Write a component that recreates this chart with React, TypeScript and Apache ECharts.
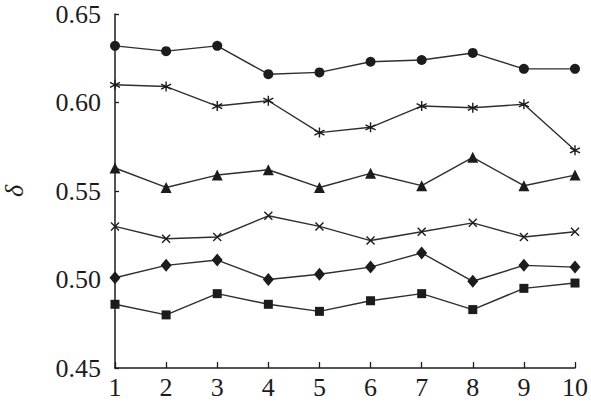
import React, {FunctionComponent, useRef, useEffect} from 'react';
import * as echarts from 'echarts';

const runs = [1, 2, 3, 4, 5, 6, 7, 8, 9, 10];
const yTicks = [0.45, 0.5, 0.55, 0.6, 0.65];

const circleValues = [0.632, 0.629, 0.632, 0.616, 0.617, 0.623, 0.624, 0.628, 0.619, 0.619];
const starValues = [0.61, 0.609, 0.598, 0.601, 0.583, 0.586, 0.598, 0.597, 0.599, 0.573];
const triangleValues = [0.563, 0.552, 0.559, 0.562, 0.552, 0.56, 0.553, 0.569, 0.553, 0.559];
const crossValues = [0.53, 0.523, 0.524, 0.536, 0.53, 0.522, 0.527, 0.532, 0.524, 0.527];
const diamondValues = [0.501, 0.508, 0.511, 0.5, 0.503, 0.507, 0.515, 0.499, 0.508, 0.507];
const squareValues = [0.486, 0.48, 0.492, 0.486, 0.482, 0.488, 0.492, 0.483, 0.495, 0.498];

const INK = '#1c1c1c';
const FONT = 'Liberation Serif';

// stroke-only marker shapes
const starPath = 'path://M5,0L5,10M0.7,2.5L9.3,7.5M9.3,2.5L0.7,7.5';
const crossPath = 'path://M0,0L10,10M10,0L0,10';

const makeSeries = (values: number[], symbol: string, size: number | number[], stroked = false) => ({
    type: 'line',
    data: runs.map((r, i) => [r, values[i]]),
    symbol,
    symbolSize: size,
    showSymbol: true,
    lineStyle: {color: '#2e2e2e', width: 1.4},
    itemStyle: stroked
        ? {color: 'none', borderColor: INK, borderWidth: 1.4}
        : {color: INK, borderColor: INK, borderWidth: 0},
    z: 3
});

const Chart: FunctionComponent = () => {
    const ref = useRef<HTMLDivElement>(null);

    useEffect(() => {
        const chart = echarts.init(ref.current as HTMLDivElement, null, {renderer: 'svg'});
        chart.setOption({
            animation: false,
            backgroundColor: '#ffffff',
            grid: {left: 115, right: 16, top: 14, bottom: 35, containLabel: false, outerBoundsMode: 'none'},
            xAxis: {
                type: 'value',
                min: 1,
                max: 10,
                interval: 1,
                axisLine: {lineStyle: {color: INK, width: 1.5}},
                axisTick: {inside: true, length: 6, lineStyle: {color: INK, width: 1.3}},
                axisLabel: {color: INK, fontFamily: FONT, fontSize: 26, lineHeight: 22, margin: 8},
                splitLine: {show: false}
            },
            yAxis: {
                type: 'value',
                min: yTicks[0],
                max: yTicks[yTicks.length - 1],
                interval: 0.05,
                name: 'δ',
                nameLocation: 'middle',
                nameRotate: 90,
                nameGap: 90,
                nameTextStyle: {color: INK, fontFamily: FONT, fontSize: 26, fontStyle: 'italic', lineHeight: 22},
                axisLine: {show: true, lineStyle: {color: INK, width: 1.5}},
                axisTick: {show: true, inside: true, length: 4, lineStyle: {color: INK, width: 1.3}},
                axisLabel: {
                    color: INK,
                    fontFamily: FONT,
                    fontSize: 26,
                    lineHeight: 22,
                    margin: 14,
                    formatter: (v: number) => v.toFixed(2)
                },
                splitLine: {show: false}
            },
            series: [
                makeSeries(circleValues, 'circle', 10),
                makeSeries(starValues, starPath, 10, true),
                makeSeries(triangleValues, 'triangle', 11),
                makeSeries(crossValues, crossPath, 8, true),
                makeSeries(diamondValues, 'diamond', [11, 13]),
                makeSeries(squareValues, 'rect', 9)
            ]
        });
        return () => chart.dispose();
    }, []);

    return <div ref={ref} style={{position: 'fixed', left: 0, top: 0, width: 591, height: 403}}></div>;
};

export default function App() {
    return <Chart />;
}
